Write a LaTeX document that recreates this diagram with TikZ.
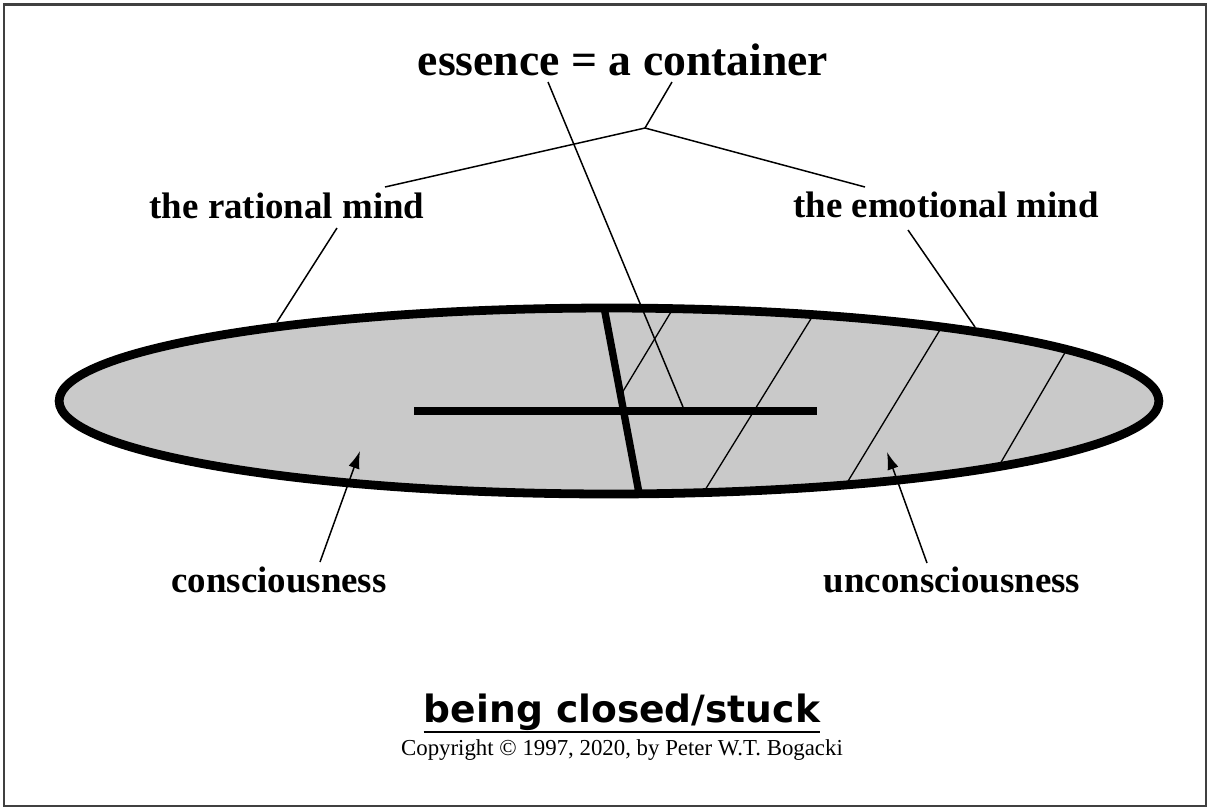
\documentclass[tikz,border=0pt]{standalone}
\usepackage{fontspec}
\setmainfont{Liberation Serif}
\newfontfamily\titlefont{DejaVu Sans}
\usetikzlibrary{arrows.meta}

\begin{document}
\begin{tikzpicture}[x=0.02cm, y=-0.02cm,
  lbl/.style={font=\fontsize{21}{23}\selectfont\bfseries, inner sep=0pt, anchor=base},
  pointer/.style={line width=0.85pt},
  hatch/.style={line width=0.75pt},
  bar/.style={line width=4.2pt},
  arr/.style={pointer, -{Latex[length=10pt,width=6.5pt]}}]
  \useasboundingbox (0,0) rectangle (1208,809);
  \draw[line width=1.2pt, black!75] (4,4.5) rectangle (1206,806);

  % the container
  \fill[black!21] (609,401) ellipse [x radius=11cm, y radius=1.86cm];
  \begin{scope}
    \clip (609,401) ellipse [x radius=11cm, y radius=1.86cm];
    \foreach \ax/\ay/\bx/\by in {683/292/622/393, 817/309/697/503, 946/320/839/496, 1070/344/993/476}
      \draw[hatch] (\ax,\ay) -- (\bx,\by);
  \end{scope}
  \draw[line width=5pt] (609,401) ellipse [x radius=11cm, y radius=1.86cm];
  \draw[bar] (604,307) -- (639,493);
  \draw[bar] (414,411) -- (817,411);

  % labels
  \node[lbl, font=\fontsize{26}{29}\selectfont\bfseries] (essence) at (623,75) {essence = a container};
  \node[lbl] (rational) at (287,218) {the rational mind};
  \node[lbl] (emotional) at (946,217) {the emotional mind};
  \node[lbl] (conscious) at (279,592) {consciousness};
  \node[lbl] (unconscious) at (952,592) {unconsciousness};
  \node[inner sep=0pt, anchor=base, font=\titlefont\fontsize{21.4}{24}\selectfont\bfseries] (title) at (622,722) {being closed/stuck};
  \node[inner sep=0pt, anchor=base, font=\fontsize{13}{15}\selectfont] (copyright) at (622,755) {Copyright \textcopyright\ 1997, 2020, by Peter W.T. Bogacki};
  \draw[line width=1pt] ([yshift=-5.5pt]title.base west) -- ([yshift=-5.5pt]title.base east);

  % pointer ends
  \coordinate (ess-in) at (548,82);
  \coordinate (ess-bar) at (683,407);
  \coordinate (ess-out) at (672,82);
  \coordinate (fork) at (645,128);
  \coordinate (rat-top) at (385,187);
  \coordinate (emo-top) at (865,187);
  \coordinate (rat-low) at (337,228);
  \coordinate (rat-rim) at (277,322);
  \coordinate (emo-low) at (908,230);
  \coordinate (emo-rim) at (975,327);
  \coordinate (con-tail) at (320,562);
  \coordinate (con-tip) at (360,451);
  \coordinate (unc-tail) at (927,563);
  \coordinate (unc-tip) at (887,452);

  \draw[pointer] (ess-in) -- (ess-bar);
  \draw[pointer] (ess-out) -- (fork);
  \draw[pointer] (rat-top) -- (fork) -- (emo-top);
  \draw[pointer] (rat-low) -- (rat-rim);
  \draw[pointer] (emo-low) -- (emo-rim);
  \draw[arr] (con-tail) -- (con-tip);
  \draw[arr] (unc-tail) -- (unc-tip);
\end{tikzpicture}
\end{document}
